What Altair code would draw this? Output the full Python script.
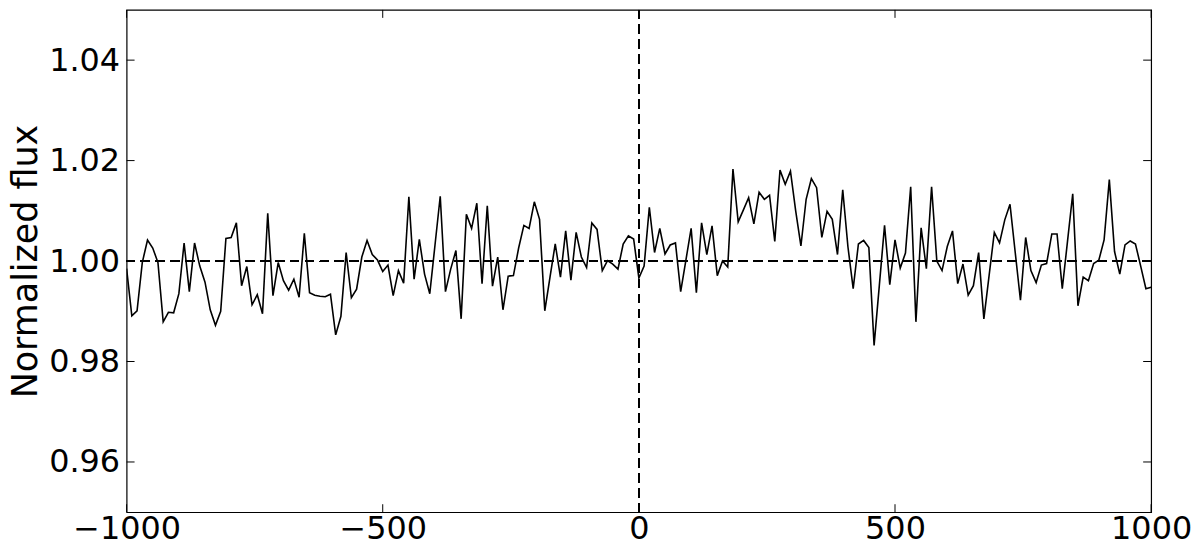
import altair as alt
import pandas as pd

# Normalized flux samples, uniformly spaced from -1000 to 1000
flux = [
    0.9985, 0.9891, 0.9901, 0.9997, 1.0042, 1.0026, 0.9997, 0.9879, 0.9898, 0.9897,
    0.9935, 1.0036, 0.9939, 1.0036, 0.9990, 0.9958, 0.9903, 0.9872, 0.9900, 1.0045,
    1.0047, 1.0076, 0.9951, 0.9989, 0.9913, 0.9933, 0.9895, 1.0095, 0.9931, 0.9997,
    0.9961, 0.9942, 0.9964, 0.9928, 1.0055, 0.9937, 0.9932, 0.9930, 0.9929, 0.9934,
    0.9853, 0.9890, 1.0017, 0.9927, 0.9944, 1.0008, 1.0041, 1.0013, 1.0002, 0.9979,
    0.9992, 0.9931, 0.9981, 0.9956, 1.0128, 0.9964, 1.0043, 0.9974, 0.9935, 1.0032,
    1.0129, 0.9939, 0.9984, 1.0021, 0.9885, 1.0093, 1.0065, 1.0115, 0.9955, 1.0110,
    0.9950, 1.0008, 0.9903, 0.9970, 0.9971, 1.0026, 1.0071, 1.0065, 1.0118, 1.0083,
    0.9901, 0.9968, 1.0034, 0.9968, 1.0060, 0.9962, 1.0057, 1.0008, 0.9987, 1.0076,
    1.0063, 0.9981, 1.0001, 0.9994, 0.9984, 1.0034, 1.0050, 1.0044, 0.9966, 0.9990,
    1.0107, 1.0017, 1.0065, 1.0014, 1.0032, 1.0036, 0.9939, 1.0002, 1.0065, 0.9937,
    1.0076, 1.0013, 1.0070, 0.9971, 1.0000, 0.9988, 1.0183, 1.0078, 1.0102, 1.0126,
    1.0074, 1.0137, 1.0123, 1.0131, 1.0039, 1.0181, 1.0153, 1.0179, 1.0100, 1.0030,
    1.0123, 1.0164, 1.0146, 1.0047, 1.0099, 1.0083, 1.0013, 1.0142, 1.0028, 0.9945,
    1.0034, 1.0041, 1.0027, 0.9832, 0.9951, 1.0071, 0.9953, 1.0042, 0.9986, 1.0016,
    1.0148, 0.9879, 1.0066, 0.9985, 1.0148, 1.0000, 0.9981, 1.0029, 1.0060, 0.9955,
    0.9994, 0.9932, 0.9951, 1.0017, 0.9885, 0.9971, 1.0057, 1.0036, 1.0082, 1.0113,
    1.0017, 0.9922, 1.0047, 0.9981, 0.9957, 0.9992, 0.9995, 1.0054, 1.0054, 0.9945,
    1.0039, 1.0134, 0.9911, 0.9968, 0.9961, 0.9995, 1.0002, 1.0042, 1.0162, 1.0019,
    0.9974, 1.0032, 1.0040, 1.0034, 0.9990, 0.9945, 0.9948,
]
x_start, x_end = -1000.0, 1000.0
n = len(flux)
xs = [x_start + (x_end - x_start) * i / (n - 1) for i in range(n)]

x_ticks = [-1000, -500, 0, 500, 1000]
y_ticks = [0.96, 0.98, 1.00, 1.02, 1.04]
x_domain = [-1000, 1000]
y_domain = [0.95, 1.05]

W, H = 1028, 504
TICK = 8
FONT = "DejaVu Sans"

df = pd.DataFrame({"x": xs, "flux": flux})
xt = pd.DataFrame({"x": x_ticks})
yt = pd.DataFrame({"flux": y_ticks})

xscale = alt.Scale(domain=x_domain, nice=False, zero=False)
yscale = alt.Scale(domain=y_domain, nice=False, zero=False)

xaxis = alt.Axis(values=x_ticks, format="d", title=None, ticks=False, tickSize=0,
                 domain=False, grid=False, labelPadding=1, labelFlush=False,
                 labelOverlap=False)
yaxis = alt.Axis(values=y_ticks, format=".2f", title="Normalized flux", ticks=False,
                 tickSize=0, domain=False, grid=False, labelPadding=7, titlePadding=5,
                 titleFontSize=35, labelFlush=False, labelOverlap=False)

X = alt.X("x:Q", scale=xscale, axis=xaxis, title=None)
Y = alt.Y("flux:Q", scale=yscale, axis=yaxis, title="Normalized flux")

line = alt.Chart(df).mark_line(color="black", strokeWidth=1.6, clip=True).encode(x=X, y=Y)

hline = alt.Chart(df).mark_rule(color="black", strokeWidth=1.3, strokeDash=[9, 6]).encode(
    y=alt.datum(1.0, scale=yscale)
)
vline = alt.Chart(df).mark_rule(color="black", strokeWidth=1.3, strokeDash=[9, 6]).encode(
    x=alt.datum(0, scale=xscale)
)

xt_bottom = alt.Chart(xt).mark_rule(color="black", strokeWidth=1).encode(
    x=X, y=alt.value(H - TICK), y2=alt.value(H))
xt_top = alt.Chart(xt).mark_rule(color="black", strokeWidth=1).encode(
    x=X, y=alt.value(0), y2=alt.value(TICK))
yt_left = alt.Chart(yt).mark_rule(color="black", strokeWidth=1).encode(
    y=Y, x=alt.value(0), x2=alt.value(TICK))
yt_right = alt.Chart(yt).mark_rule(color="black", strokeWidth=1).encode(
    y=Y, x=alt.value(W - TICK), x2=alt.value(W))

chart = alt.layer(line, hline, vline, xt_bottom, xt_top, yt_left, yt_right).properties(
    width=W, height=H, background="white",
    padding={"left": 0, "top": 0, "right": 0, "bottom": 0}
).configure_view(
    stroke="black", strokeWidth=1.2
).configure_axis(
    labelFont=FONT, titleFont=FONT, labelFontSize=32, titleFontSize=35,
    labelColor="black", titleColor="black", titleFontWeight="normal"
)

chart.save("out.html", embed_options={"renderer": "svg", "actions": False})
